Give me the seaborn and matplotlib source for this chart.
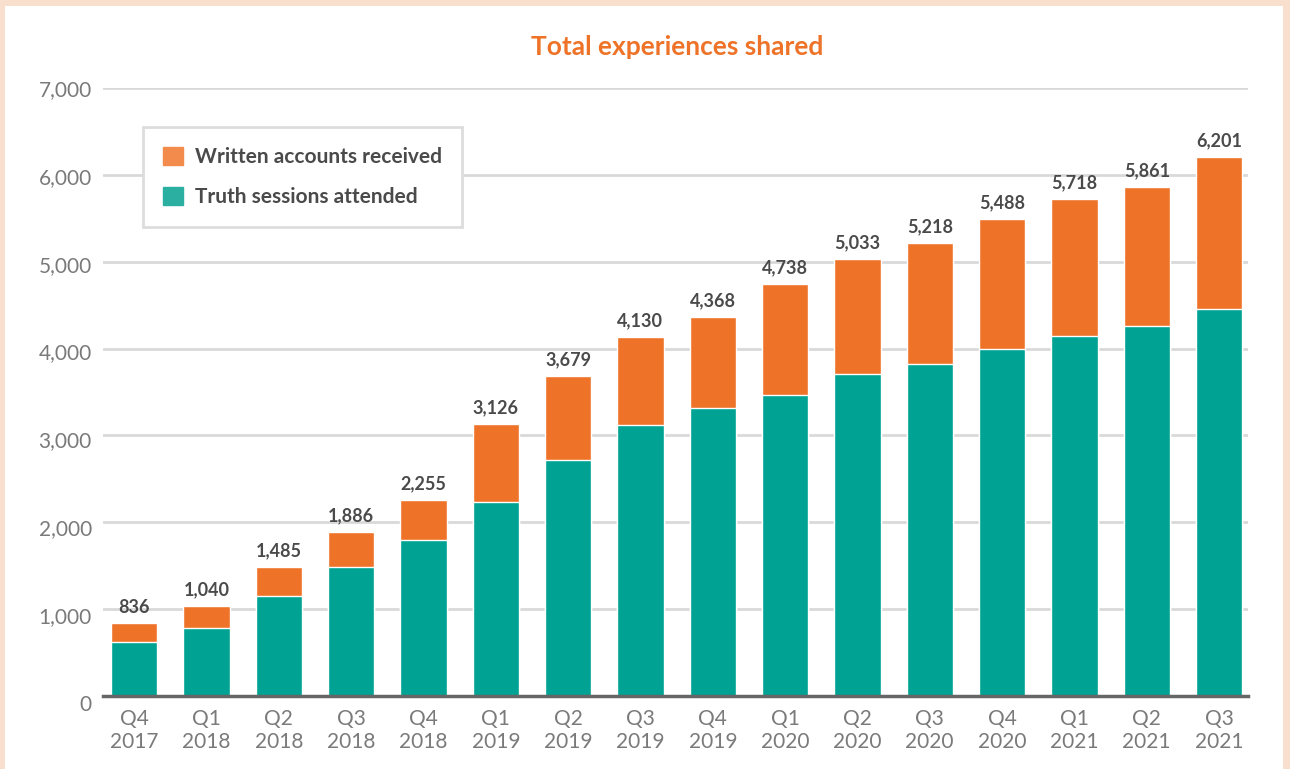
import matplotlib.pyplot as plt
import matplotlib.patches as mpatches
import matplotlib.transforms as mtransforms
import pandas as pd
import seaborn as sns

quarters = ["Q4\n2017", "Q1\n2018", "Q2\n2018", "Q3\n2018", "Q4\n2018", "Q1\n2019",
            "Q2\n2019", "Q3\n2019", "Q4\n2019", "Q1\n2020", "Q2\n2020", "Q3\n2020",
            "Q4\n2020", "Q1\n2021", "Q2\n2021", "Q3\n2021"]
totals = [836, 1040, 1485, 1886, 2255, 3126, 3679, 4130, 4368, 4738, 5033, 5218,
          5488, 5718, 5861, 6201]
truth_sessions = [620, 780, 1150, 1480, 1800, 2235, 2720, 3120, 3320, 3470, 3710, 3820,
                  3990, 4150, 4265, 4460]
written_accounts = [t - s for t, s in zip(totals, truth_sessions)]
y_ticks = [0, 1000, 2000, 3000, 4000, 5000, 6000, 7000]

ORANGE = "#EE7328"
TEAL = "#00A294"
GRID = "#D9D9D9"
TICK = "#7A7A7A"

sns.set_theme(style="white")
plt.rcParams["font.family"] = ["Lato", "DejaVu Sans"]

df = pd.DataFrame({"quarter": quarters, "total": totals, "truth": truth_sessions,
                   "written": written_accounts})

fig = plt.figure(figsize=(12.9, 7.69), dpi=100)
fig.patch.set_facecolor("#F9DFCE")
fig.patches.append(mpatches.Rectangle((5 / 1290, 0), 1278 / 1290, 763 / 769,
                                      transform=fig.transFigure, facecolor="white",
                                      edgecolor="none", zorder=-5))
ax = fig.add_axes([103 / 1290, (769 - 696) / 769, 1145 / 1290, 608 / 769])
ax.set_facecolor("none")

# stacked bars: total in orange, truth sessions drawn over it in teal
sns.barplot(data=df, x="quarter", y="total", color=ORANGE, saturation=1,
            width=0.64, ax=ax, zorder=3)
sns.barplot(data=df, x="quarter", y="truth", color=TEAL, saturation=1,
            width=0.64, ax=ax, zorder=4)

for i, t in enumerate(totals):
    ax.text(i, t + 90, f"{t:,}", ha="center", va="bottom", fontsize=13,
            fontweight="bold", color="#4A4A4A", zorder=5)

ax.set_ylim(0, 7000)
ax.set_xlim(-0.43, 15.4)
ax.set_yticks(y_ticks)
ax.set_yticklabels([f"{v:,}" for v in y_ticks])
ax.grid(axis="y", color=GRID, linewidth=2, zorder=0)
ax.grid(axis="x", visible=False)
ax.set_axisbelow(True)
for side in ["top", "right", "left"]:
    ax.spines[side].set_visible(False)
ax.spines["bottom"].set_color("#666666")
ax.spines["bottom"].set_linewidth(2.5)
ax.spines["bottom"].set_zorder(6)
ax.tick_params(axis="both", length=0, labelsize=15, labelcolor=TICK)
ax.tick_params(axis="y", pad=8)
ax.tick_params(axis="x", pad=9)
ax.set_xlabel("")
ax.set_ylabel("")

# in the original the lower y labels drift a few pixels below their gridlines
for v, lbl in zip(y_ticks, ax.get_yticklabels()):
    drop = 0.07 * (1 - v / 7000)
    lbl.set_transform(lbl.get_transform()
                      + mtransforms.ScaledTranslation(0, -drop, fig.dpi_scale_trans))
for lbl in ax.get_xticklabels():
    lbl.set_linespacing(1.25)

fig.text(677 / 1290, 1 - 47 / 769, "Total experiences shared", ha="center", va="center",
         fontsize=19, fontweight="bold", color=ORANGE)

handles = [mpatches.Patch(color="#F28B4B", label="Written accounts received"),
           mpatches.Patch(color="#2AAFA0", label="Truth sessions attended")]
leg = ax.legend(handles=handles, loc="upper left", bbox_to_anchor=(40 / 1145, 569 / 608),
                frameon=True, fancybox=False, fontsize=15, handlelength=0.95,
                handleheight=0.95, handletextpad=0.6, labelspacing=0.95,
                borderpad=0.95, borderaxespad=0, framealpha=1)
leg.get_frame().set_edgecolor("#DDDDDD")
leg.get_frame().set_linewidth(2)
for txt in leg.get_texts():
    txt.set_fontweight("bold")
    txt.set_color("#4A4A4A")
leg.set_zorder(7)

fig.savefig("out.png", dpi=100, facecolor=fig.get_facecolor())
